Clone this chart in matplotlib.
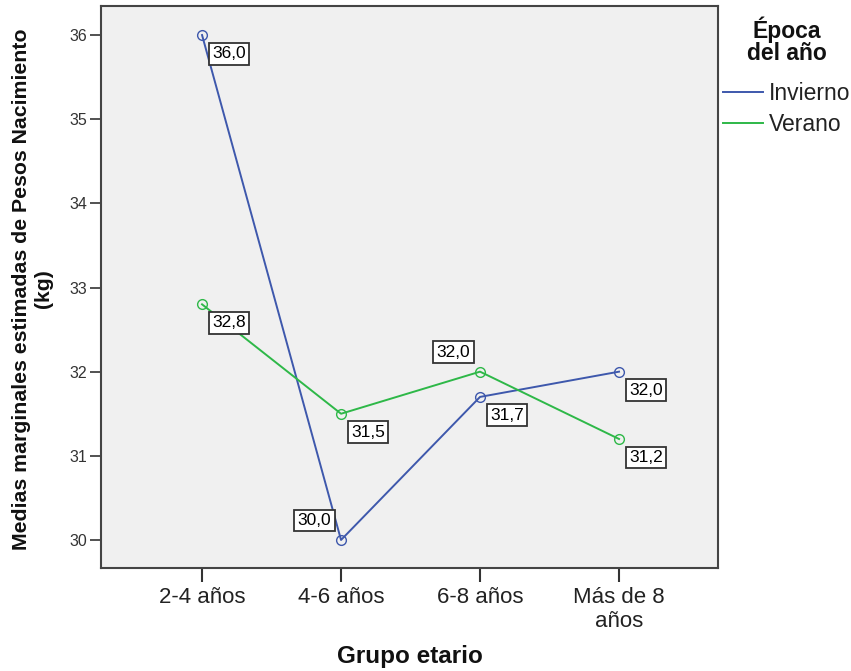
import matplotlib
matplotlib.use("Agg")
import matplotlib.pyplot as plt
from matplotlib.lines import Line2D

plt.rcParams['font.family'] = ['Liberation Sans', 'DejaVu Sans']

categories = ["2-4 años", "4-6 años", "6-8 años", "Más de 8\naños"]
invierno = [36.0, 30.0, 31.7, 32.0]
verano = [32.8, 31.5, 32.0, 31.2]
series_names = ["Invierno", "Verano"]
y_ticks = [30, 31, 32, 33, 34, 35, 36]

# label placement: True = right-down, False = left-up
inv_pos = [True, False, True, True]
ver_pos = [True, True, False, True]

W, H = 851, 671
fig = plt.figure(figsize=(W / 100, H / 100), dpi=100)
fig.patch.set_facecolor("white")
ax = fig.add_axes([101 / W, 1 - 568 / H, (718 - 101) / W, (568 - 6) / H])
ax.set_facecolor("#F0F0F0")

blue = "#3E58AC"
green = "#2EB848"
x = list(range(len(categories)))

box = dict(boxstyle="square,pad=0.2", fc="white", ec="#333333", lw=1.3)
for vals, col, pos in [(invierno, blue, inv_pos), (verano, green, ver_pos)]:
    ax.plot(x, vals, color=col, lw=1.4, marker="o", markersize=7,
            markerfacecolor="none", markeredgecolor=col, markeredgewidth=1.0, zorder=3)
    for xi, v, rd in zip(x, vals, pos):
        txt = f"{v:.1f}".replace(".", ",")
        if rd:
            ax.annotate(txt, xy=(xi, v), xytext=(10, -11), textcoords="offset pixels",
                        ha="left", va="top", fontsize=12.5, bbox=box, zorder=4)
        else:
            ax.annotate(txt, xy=(xi, v), xytext=(-10, 12), textcoords="offset pixels",
                        ha="right", va="bottom", fontsize=12.5, bbox=box, zorder=4)

ax.set_xlim(-0.727, 3.712)
ax.set_ylim(29.667, 36.345)
ax.set_xticks(x)
ax.set_xticklabels(categories, fontsize=16, color="#222222", linespacing=1.15)
ax.set_yticks(y_ticks)
ax.set_yticklabels([str(t) for t in y_ticks], fontsize=11.5, color="#333333")
ax.tick_params(axis="x", length=10, width=1.5, color="#333333", pad=4)
ax.tick_params(axis="y", length=8, width=1.2, color="#333333", pad=2)
for s in ax.spines.values():
    s.set_color("#444444")
    s.set_linewidth(1.5)

fig.text(33 / W, 1 - 289 / H, "Medias marginales estimadas de Pesos Nacimiento\n(kg)",
         rotation=90, ha="center", va="center", fontsize=15.3, fontweight="bold",
         linespacing=1.2, color="#111111")
fig.text(410 / W, 1 - 656 / H, "Grupo etario", ha="center", va="center",
         fontsize=17.5, fontweight="bold", color="#111111")

# legend title
fig.text(787 / W, 1 - 41 / H, "Época\ndel año", ha="center", va="center",
         fontsize=16.5, fontweight="bold", linespacing=0.95, color="#111111")

handles = [Line2D([0], [0], color=blue, lw=1.4), Line2D([0], [0], color=green, lw=1.4)]
leg = fig.legend(handles, series_names, loc="upper left",
                 bbox_to_anchor=(718 / W, 1 - 77 / H), frameon=False,
                 fontsize=16.5, handlelength=1.75, handletextpad=0.25,
                 labelspacing=0.38, borderpad=0.2, borderaxespad=0)
for t in leg.get_texts():
    t.set_color("#222222")

fig.savefig("out.png", dpi=100)
